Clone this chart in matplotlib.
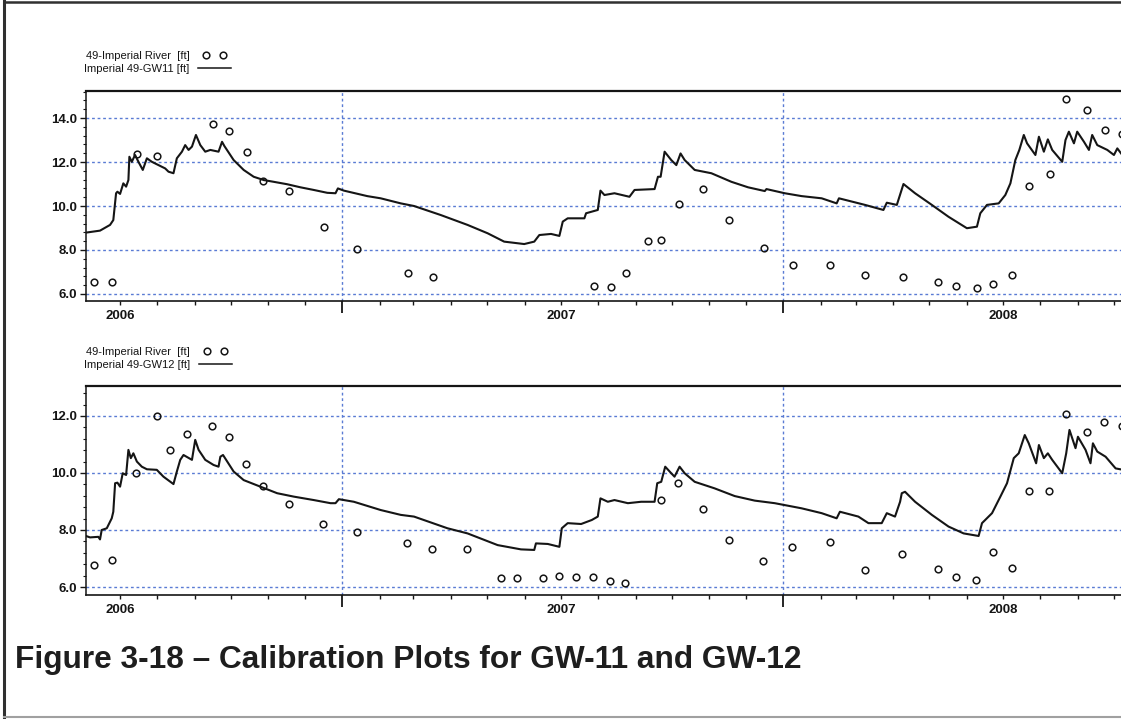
import pandas as pd
import matplotlib
matplotlib.use('Agg')
import matplotlib.pyplot as plt
import matplotlib.dates as mdates
from matplotlib.lines import Line2D
from matplotlib.ticker import MultipleLocator, FuncFormatter, NullFormatter
from matplotlib.legend_handler import HandlerLine2D

# ---------------- data (days after the left edge of the plots) ----------------
t0 = pd.Timestamp('2006-06-03')
t_end = pd.Timestamp('2008-11-01')

obs11_days = [6.9, 21.6, 42.1, 59.1, 104.8, 118.4, 133.0, 146.6, 168.1, 196.6,
              224.2, 266.3, 286.8, 420.6, 434.4, 447.1, 465.1, 476.1, 490.5, 511.0,
              532.5, 561.0, 584.8, 615.8, 645.1, 675.8, 705.3, 720.0, 737.2, 750.4,
              766.7, 780.6, 797.7, 811.5, 828.9, 843.0, 857.7]
obs11_val = [6.53, 6.53, 12.38, 12.29, 13.74, 13.41, 12.47, 11.15, 10.68, 9.05,
             8.06, 6.97, 6.79, 6.38, 6.30, 6.95, 8.42, 8.45, 10.10, 10.77,
             9.36, 8.09, 7.30, 7.30, 6.88, 6.79, 6.56, 6.36, 6.27, 6.47,
             6.85, 10.92, 11.45, 14.88, 14.36, 13.44, 13.29]

sim11_days = [0, 11.6, 19.9, 22.6, 24.9, 26.0, 28.2, 30.9, 33.2, 35.1, 35.9, 37.9, 40.6,
              43.4, 47.0, 50.4, 54.5, 60.0, 65.5, 68.3, 72.4, 75.2, 79.4, 82.1, 84.9,
              87.7, 91.0, 94.6, 98.7, 102.9, 109.7, 112.6, 114.5, 122.2, 130.5, 138.8,
              147.1, 155.4, 166.5, 177.5, 188.5, 199.7, 206.5, 208.5, 213.4, 232.8,
              243.9, 260.5, 271.5, 293.6, 315.8, 332.4, 346.1, 362.7, 371.0, 375.2,
              384.9, 391.8, 394.6, 398.7, 412.5, 413.9, 423.6, 425.8, 429.1, 437.4,
              449.8, 454.0, 470.6, 473.4, 475.6, 478.9, 484.4, 488.6, 492.1, 495.5,
              503.8, 517.6, 534.2, 548.0, 561.8, 563.2, 578.4, 592.3, 608.9, 621.3,
              623.2, 644.8, 660.0, 662.8, 671.1, 676.6, 686.2, 700.1, 713.9, 729.1,
              737.4, 740.2, 745.7, 755.4, 760.9, 765.1, 769.2, 772.5, 776.2, 778.9,
              785.8, 788.7, 792.8, 796.1, 799.7, 808.0, 810.7, 813.5, 817.7, 820.4,
              826.0, 830.1, 832.8, 837.0, 845.3, 850.8, 853.6, 857.7]
sim11_val = [8.79, 8.88, 9.14, 9.36, 10.58, 10.65, 10.55, 11.03, 10.88, 11.18, 12.24, 12.01, 12.32,
             12.01, 11.64, 12.17, 12.01, 11.86, 11.71, 11.56, 11.49, 12.17, 12.47, 12.77, 12.55,
             12.70, 13.23, 12.77, 12.47, 12.55, 12.47, 12.92, 12.73, 12.09, 11.64, 11.33,
             11.18, 11.10, 10.99, 10.85, 10.73, 10.60, 10.58, 10.80, 10.70, 10.45,
             10.35, 10.12, 10.00, 9.59, 9.14, 8.76, 8.38, 8.27, 8.38, 8.68,
             8.73, 8.64, 9.29, 9.44, 9.44, 9.67, 9.82, 10.70, 10.50, 10.58,
             10.42, 10.73, 10.77, 11.33, 11.33, 12.47, 12.09, 11.86, 12.39, 12.09,
             11.64, 11.49, 11.10, 10.85, 10.68, 10.77, 10.58, 10.45, 10.35, 10.12,
             10.35, 10.05, 9.82, 10.15, 10.05, 11.00, 10.58, 10.05, 9.51, 8.99,
             9.06, 9.67, 10.05, 10.12, 10.50, 11.03, 12.09, 12.55, 13.23, 12.85,
             12.32, 13.15, 12.47, 13.03, 12.55, 12.01, 13.00, 13.38, 12.85, 13.38,
             12.92, 12.55, 13.23, 12.77, 12.55, 12.32, 12.62, 12.32]

obs12_days = [6.4, 21.3, 41.5, 58.6, 69.4, 83.2, 104.3, 118.0, 132.7, 146.6,
              167.8, 196.0, 224.0, 266.0, 286.4, 315.2, 343.2, 356.9, 378.0, 391.8,
              405.6, 420.0, 433.8, 446.5, 475.9, 490.0, 510.7, 532.3, 560.5, 584.6,
              615.7, 644.8, 675.5, 705.1, 719.8, 736.8, 750.4, 766.5, 780.3, 797.4,
              811.3, 828.4, 842.8, 857.7]
obs12_val = [6.76, 6.95, 9.99, 12.00, 10.81, 11.38, 11.64, 11.27, 10.33, 9.54,
             8.91, 8.20, 7.94, 7.54, 7.33, 7.33, 6.32, 6.32, 6.32, 6.39,
             6.35, 6.35, 6.21, 6.15, 9.05, 9.64, 8.72, 7.64, 6.91, 7.39,
             7.58, 6.60, 7.15, 6.63, 6.35, 6.23, 7.23, 6.68, 9.37, 9.37,
             12.06, 11.44, 11.77, 11.66]

sim12_days = [0, 3.3, 10.2, 11.6, 13.0, 17.2, 21.3, 22.6, 24.1, 26.0, 28.2, 30.4, 33.2,
              35.1, 37.1, 39.2, 42.1, 46.2, 50.4, 58.6, 64.1, 72.4, 75.2, 78.0, 80.7,
              87.7, 90.4, 93.2, 98.7, 105.6, 109.7, 111.2, 113.4, 122.2, 130.5, 144.3,
              158.2, 172.0, 188.5, 202.4, 206.5, 209.3, 221.7, 243.9, 260.5, 271.5,
              299.2, 315.8, 340.7, 360.0, 371.0, 372.4, 382.2, 391.8, 393.8, 398.7,
              409.8, 418.6, 423.6, 425.8, 431.9, 437.4, 448.5, 459.5, 470.6, 472.8,
              476.1, 479.4, 484.4, 487.1, 491.3, 495.5, 503.8, 520.3, 536.9, 553.5,
              570.1, 592.3, 608.9, 621.3, 624.0, 639.3, 647.6, 658.6, 662.8, 669.6,
              673.8, 675.2, 677.9, 686.2, 700.1, 713.9, 726.4, 738.8, 741.6, 749.9,
              756.8, 762.3, 767.9, 772.0, 777.0, 780.3, 786.4, 788.7, 792.8, 796.1,
              799.7, 808.0, 811.3, 814.0, 819.0, 821.0, 827.3, 831.4, 833.4, 837.0,
              843.9, 852.2, 858.5]
sim12_val = [7.79, 7.74, 7.76, 7.67, 8.00, 8.06, 8.41, 8.64, 9.64, 9.66, 9.52, 9.99, 9.93,
             10.81, 10.52, 10.69, 10.40, 10.22, 10.13, 10.11, 9.87, 9.61, 10.05, 10.46, 10.63,
             10.46, 11.16, 10.81, 10.46, 10.28, 10.22, 10.57, 10.63, 10.05, 9.75, 9.52,
             9.29, 9.17, 9.05, 8.94, 8.94, 9.08, 8.99, 8.70, 8.53, 8.47,
             8.06, 7.88, 7.47, 7.32, 7.30, 7.53, 7.51, 7.41, 8.06, 8.24,
             8.21, 8.35, 8.47, 9.11, 8.99, 9.05, 8.94, 8.99, 8.99, 9.64,
             9.69, 10.22, 9.99, 9.87, 10.22, 9.99, 9.69, 9.46, 9.19, 9.03,
             8.94, 8.76, 8.59, 8.41, 8.64, 8.47, 8.24, 8.24, 8.59, 8.47,
             8.99, 9.29, 9.34, 8.99, 8.53, 8.12, 7.88, 7.79, 8.24, 8.59,
             9.17, 9.64, 10.52, 10.69, 11.33, 11.04, 10.34, 10.98, 10.52, 10.69,
             10.46, 9.99, 10.69, 11.51, 10.87, 11.27, 10.81, 10.34, 11.04, 10.75,
             10.57, 10.16, 10.11]

obs_label = '49-Imperial River  [ft]'
sim_labels = ['Imperial 49-GW11 [ft]', 'Imperial 49-GW12 [ft]']
title = 'Figure 3-18 \u2013 Calibration Plots for GW-11 and GW-12'


def to_dates(days):
    return t0 + pd.to_timedelta(days, unit='D')


# ---------------- layout ----------------
W, H = 1121, 719
px_per_day = 1.2082
grid_c = '#5a7bd4'
ink = '#151515'

plt.rcParams['font.family'] = ['Liberation Sans', 'DejaVu Sans']
fig = plt.figure(figsize=(W / 100, H / 100), dpi=100)
fig.patch.set_facecolor('white')

ax_w = (t_end - t0).days * px_per_day / W
panels = [
    dict(rect=[86 / W, 1 - 301 / H, ax_w, 210 / H], ylim=(5.68, 15.23), leg_top=51,
         obs=(obs11_days, obs11_val), sim=(sim11_days, sim11_val), label=sim_labels[0]),
    dict(rect=[86 / W, 1 - 595 / H, ax_w, 209 / H], ylim=(5.72, 13.05), leg_top=347,
         obs=(obs12_days, obs12_val), sim=(sim12_days, sim12_val), label=sim_labels[1]),
]


def year_label(x, pos):
    d = mdates.num2date(x)
    return str(d.year) if d.month == 7 else ''


for p in panels:
    ax = fig.add_axes(p['rect'])
    sim_line, = ax.plot(to_dates(p['sim'][0]), p['sim'][1], '-', color=ink, lw=1.5,
                        label=p['label'], zorder=3)
    obs_pts, = ax.plot(to_dates(p['obs'][0]), p['obs'][1], 'o', mfc='none', mec=ink, ms=4.8,
                       mew=1.1, label=obs_label, zorder=4)

    ax.set_xlim(t0, t_end)
    ax.set_ylim(*p['ylim'])

    ax.xaxis.set_major_locator(mdates.YearLocator())
    ax.xaxis.set_major_formatter(NullFormatter())
    ax.xaxis.set_minor_locator(mdates.MonthLocator())
    ax.xaxis.set_minor_formatter(FuncFormatter(year_label))
    ax.yaxis.set_major_locator(MultipleLocator(2))
    ax.yaxis.set_minor_locator(MultipleLocator(0.4))
    ax.yaxis.set_major_formatter(FuncFormatter(lambda v, pos: f'{v:.1f}'))

    ax.grid(True, which='major', color=grid_c, ls=(0, (2, 2)), lw=1.0)
    ax.set_axisbelow(True)

    ax.tick_params(axis='y', which='major', length=4, width=1, pad=2.5, labelsize=9.5, colors=ink)
    ax.tick_params(axis='y', which='minor', length=2.5, width=0.8, colors=ink)
    ax.tick_params(axis='x', which='major', length=8.5, width=1.3, colors=ink)
    ax.tick_params(axis='x', which='minor', length=3, width=1, pad=3.5, labelsize=9.5, colors=ink)
    for lab in ax.get_yticklabels() + ax.get_xticklabels(minor=True):
        lab.set_fontweight('bold')

    ax.spines['right'].set_visible(False)
    ax.spines['top'].set_linewidth(1.6)
    ax.spines['left'].set_linewidth(1.1)
    ax.spines['bottom'].set_linewidth(1.2)
    for s in ax.spines.values():
        s.set_color(ink)

    leg = ax.legend([obs_pts, sim_line], [obs_label, p['label']], loc='upper left',
                    markerfirst=False, frameon=False,
                    bbox_to_anchor=(84 / W, 1 - p['leg_top'] / H), bbox_transform=fig.transFigure,
                    borderpad=0, borderaxespad=0, labelspacing=0.25, handlelength=3.0,
                    handletextpad=0.8,
                    handler_map={obs_pts: HandlerLine2D(numpoints=2, marker_pad=0.72),
                                 sim_line: HandlerLine2D(numpoints=2, marker_pad=0)},
                    prop=dict(size=8))
    for t in leg.get_texts():
        t.set_color(ink)
    for hnd in leg.legend_handles:
        hnd.set_linewidth(1.1)

fig.text(15 / W, 1 - 660 / H, title, fontsize=22.8, fontweight='bold', color='#1e1e1e',
         va='center', ha='left')

# page frame of the scanned figure
fig.add_artist(Line2D([4 / W, 4 / W], [0, 1], transform=fig.transFigure, color='#303030', lw=2.2))
fig.add_artist(Line2D([4 / W, 1], [1 - 1.5 / H, 1 - 1.5 / H], transform=fig.transFigure,
                      color='#303030', lw=1.8))
fig.add_artist(Line2D([4 / W, 1], [1 - 717 / H, 1 - 717 / H], transform=fig.transFigure,
                      color='#a0a0a0', lw=1.5))

plt.savefig('out.png', dpi=100)
